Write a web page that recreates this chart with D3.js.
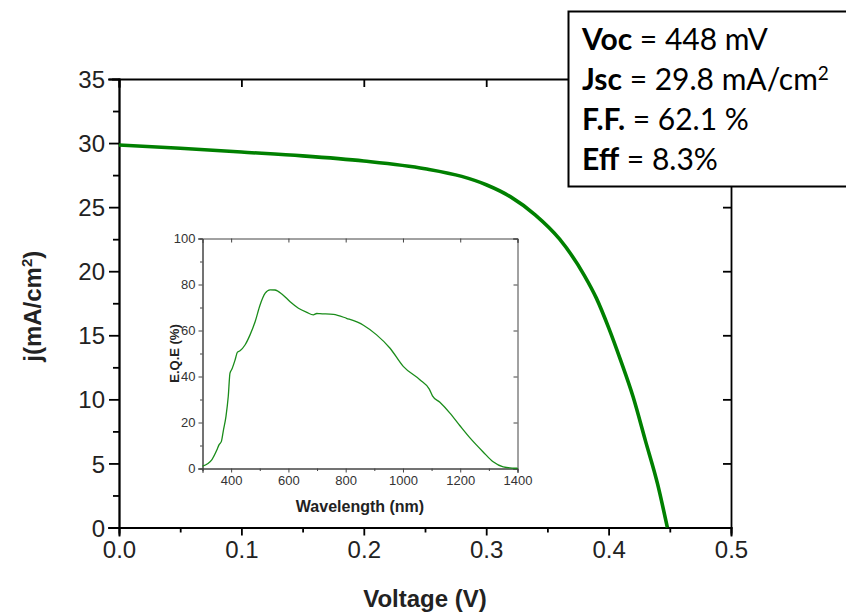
<!DOCTYPE html>
<html>
<head>
<meta charset="utf-8">
<script src="https://cdn.jsdelivr.net/npm/d3@7"></script>
<style>
  body { margin: 0; background: #fff; }
  text { font-family: Arial, "Liberation Sans", sans-serif; }
</style>
</head>
<body>
<svg id="chart" width="846" height="613"></svg>
<script>
// J-V curve
const voltage = [0, 0.05, 0.1, 0.15, 0.2, 0.25, 0.28, 0.3, 0.32, 0.34, 0.36, 0.38, 0.39, 0.4, 0.41, 0.42, 0.43, 0.44, 0.448];
const current = [29.85, 29.6, 29.3, 29.0, 28.6, 28.0, 27.4, 26.75, 25.8, 24.4, 22.5, 19.7, 17.9, 15.6, 13.0, 10.2, 6.8, 3.4, 0];

// EQE inset
const wavelength = [300, 333, 350, 358, 366, 373, 382, 390, 396, 402, 414, 422, 431, 449, 466, 484, 501, 519, 536, 553, 577, 606, 635, 664, 687, 699, 710, 757, 803, 862, 908, 955, 1001, 1059, 1092, 1103, 1129, 1164, 1199, 1234, 1280, 1315, 1350, 1396, 1400];
const eqe = [1.0, 3.9, 8.0, 10.4, 11.8, 16.6, 22.7, 31.4, 41.5, 43.0, 47.3, 50.6, 51.2, 53.8, 58.1, 63.9, 71.1, 76.2, 77.7, 77.6, 75.9, 72.5, 69.7, 67.9, 66.8, 67.4, 67.3, 67.0, 65.3, 62.3, 58.1, 52.3, 44.4, 38.6, 34.5, 31.6, 28.8, 24.1, 18.6, 13.3, 7.2, 2.9, 0.7, 0.1, 0.1];

const xTicks = [0, 0.1, 0.2, 0.3, 0.4, 0.5];
const xMinor = [0.05, 0.15, 0.25, 0.35, 0.45];
const yTicks = [0, 5, 10, 15, 20, 25, 30, 35];
const yMinor = [2.5, 7.5, 12.5, 17.5, 22.5, 27.5, 32.5];
const insetXTicks = [400, 600, 800, 1000, 1200, 1400];
const insetXMinor = [300, 500, 700, 900, 1100, 1300];
const insetYTicks = [0, 20, 40, 60, 80, 100];
const insetYMinor = [10, 30, 50, 70, 90];

const stats = [
  { label: "Voc", value: " = 448 mV" },
  { label: "Jsc", value: " = 29.8 mA/cm", sup: "2" },
  { label: "F.F.", value: " = 62.1 %" },
  { label: "Eff", value: " = 8.3%" }
];

const svg = d3.select("#chart");

// main plot
const mLeft = 119, mRight = 731, mTop = 79, mBottom = 527.5;
const x = d3.scaleLinear().domain([0, 0.5]).range([mLeft, mRight]);
const y = d3.scaleLinear().domain([0, 35]).range([mBottom, mTop]);

function styleAxis(g, width, color) {
  g.selectAll("path, line").attr("stroke", color).attr("stroke-width", width);
  g.select(".domain").attr("stroke-linecap", "square");
}

const main = svg.append("g");

main.append("g")
  .attr("transform", `translate(0,${mBottom})`)
  .call(d3.axisBottom(x).tickValues(xTicks).tickFormat(d3.format(".1f")).tickSize(8).tickPadding(5))
  .call(g => styleAxis(g, 1.8, "#000"))
  .call(g => g.selectAll("text").attr("font-size", 24).attr("fill", "#222"));
main.append("g")
  .attr("transform", `translate(0,${mBottom})`)
  .call(d3.axisBottom(x).tickValues(xMinor).tickFormat("").tickSize(5))
  .call(g => styleAxis(g, 1.8, "#000"));

main.append("g")
  .attr("transform", `translate(${mLeft},0)`)
  .call(d3.axisLeft(y).tickValues(yTicks).tickSize(10).tickPadding(4))
  .call(g => styleAxis(g, 1.8, "#000"))
  .call(g => g.selectAll("text").attr("font-size", 24).attr("fill", "#222").attr("dy", "0.36em"));
main.append("g")
  .attr("transform", `translate(${mLeft},0)`)
  .call(d3.axisLeft(y).tickValues(yMinor).tickFormat("").tickSize(6))
  .call(g => styleAxis(g, 1.8, "#000"));

main.append("g")
  .attr("transform", `translate(${mRight},0)`)
  .call(d3.axisRight(y).tickValues(yTicks).tickFormat("").tickSize(-8))
  .call(g => styleAxis(g, 1.8, "#000"));
main.append("g")
  .attr("transform", `translate(0,${mTop})`)
  .call(d3.axisTop(x).tickValues(xTicks).tickFormat("").tickSize(-8))
  .call(g => styleAxis(g, 1.8, "#000"));

main.append("path")
  .datum(voltage.map((v, i) => [v, current[i]]))
  .attr("fill", "none")
  .attr("stroke", "#008000")
  .attr("stroke-width", 3.6)
  .attr("d", d3.line().x(d => x(d[0])).y(d => y(d[1])).curve(d3.curveMonotoneX));

main.append("text")
  .attr("x", (mLeft + mRight) / 2)
  .attr("y", 607)
  .attr("text-anchor", "middle")
  .attr("font-size", 24)
  .attr("font-weight", "bold")
  .attr("fill", "#222")
  .text("Voltage (V)");

const yLabel = main.append("text")
  .attr("transform", `translate(41,${(mTop + mBottom) / 2 + 3}) rotate(-90)`)
  .attr("text-anchor", "middle")
  .attr("font-size", 24)
  .attr("font-weight", "bold")
  .attr("fill", "#222");
yLabel.append("tspan").text("j(mA/cm");
yLabel.append("tspan").attr("font-size", 15).attr("baseline-shift", "60%").text("2");
yLabel.append("tspan").text(")");

// inset
const iLeft = 202.5, iRight = 517.5, iTop = 238.5, iBottom = 468.5;
const ix = d3.scaleLinear().domain([300, 1400]).range([iLeft, iRight]);
const iy = d3.scaleLinear().domain([0, 100]).range([iBottom, iTop]);
const inset = svg.append("g");
const ic = "#444";

inset.append("g")
  .attr("transform", `translate(0,${iBottom})`)
  .call(d3.axisBottom(ix).tickValues(insetXTicks).tickFormat(d3.format("d")).tickSize(4).tickPadding(3))
  .call(g => styleAxis(g, 1, ic))
  .call(g => g.selectAll("text").attr("font-size", 13).attr("fill", "#333"));
inset.append("g")
  .attr("transform", `translate(0,${iBottom})`)
  .call(d3.axisBottom(ix).tickValues(insetXMinor).tickFormat("").tickSize(2.5))
  .call(g => styleAxis(g, 1, ic));
inset.append("g")
  .attr("transform", `translate(${iLeft},0)`)
  .call(d3.axisLeft(iy).tickValues(insetYTicks).tickFormat(d3.format("d")).tickSize(4).tickPadding(3))
  .call(g => styleAxis(g, 1, ic))
  .call(g => g.selectAll("text").attr("font-size", 13).attr("fill", "#333"));
inset.append("g")
  .attr("transform", `translate(${iLeft},0)`)
  .call(d3.axisLeft(iy).tickValues(insetYMinor).tickFormat("").tickSize(2.5))
  .call(g => styleAxis(g, 1, ic));
inset.append("g")
  .attr("transform", `translate(${iRight},0)`)
  .call(d3.axisRight(iy).tickValues(insetYTicks).tickFormat("").tickSize(-4))
  .call(g => styleAxis(g, 1, ic));
inset.append("g")
  .attr("transform", `translate(0,${iTop})`)
  .call(d3.axisTop(ix).tickValues(insetXTicks).tickFormat("").tickSize(-4))
  .call(g => styleAxis(g, 1, ic));

inset.append("path")
  .datum(wavelength.map((w, i) => [w, eqe[i]]))
  .attr("fill", "none")
  .attr("stroke", "#1a8c1a")
  .attr("stroke-width", 1.3)
  .attr("d", d3.line().x(d => ix(d[0])).y(d => iy(d[1])).curve(d3.curveMonotoneX));

inset.append("text")
  .attr("x", (iLeft + iRight) / 2)
  .attr("y", 512)
  .attr("text-anchor", "middle")
  .attr("font-size", 16)
  .attr("font-weight", "bold")
  .attr("fill", "#222")
  .text("Wavelength (nm)");
inset.append("text")
  .attr("transform", `translate(179,${(iTop + iBottom) / 2}) rotate(-90)`)
  .attr("text-anchor", "middle")
  .attr("font-size", 13)
  .attr("font-weight", "bold")
  .attr("fill", "#222")
  .text("E.Q.E (%)");

// stats box
const box = svg.append("g");
box.append("rect")
  .attr("x", 568.5).attr("y", 11.5)
  .attr("width", 290).attr("height", 175)
  .attr("fill", "#fff").attr("stroke", "#000").attr("stroke-width", 2);

const rows = box.selectAll("text.stat")
  .data(stats)
  .enter()
  .append("text")
  .attr("class", "stat")
  .attr("x", 582)
  .attr("y", (d, i) => 50 + i * 40)
  .attr("font-size", 30)
  .attr("fill", "#000")
  .style("font-family", "Lato, 'Open Sans', sans-serif");
rows.append("tspan").attr("font-weight", "bold").text(d => d.label);
rows.append("tspan").text(d => d.value);
rows.filter(d => d.sup).append("tspan")
  .attr("font-size", 19).attr("baseline-shift", "55%")
  .text(d => d.sup);
</script>
</body>
</html>
